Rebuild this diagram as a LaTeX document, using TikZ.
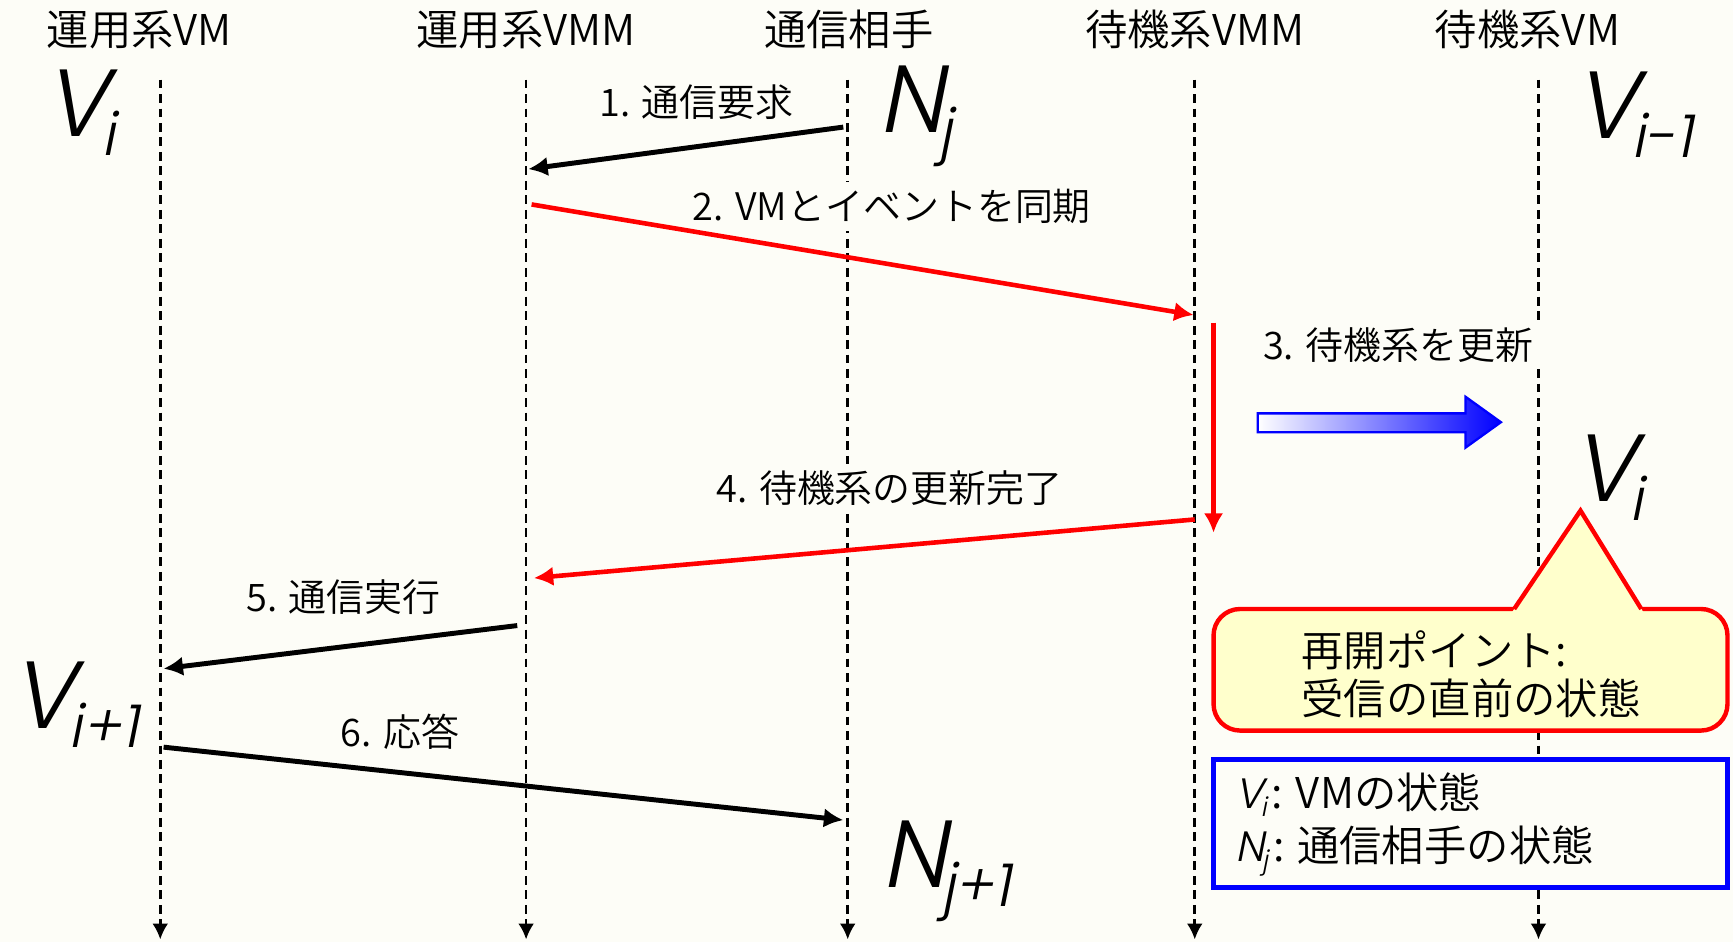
\documentclass[tikz,border=0pt]{standalone}
\usepackage{fontspec}
\setmainfont{Noto Sans CJK JP}[UprightFont=* DemiLight]
\newfontfamily\varfont{Poppins}[UprightFont=* Light,FakeSlant=0.2]
\usetikzlibrary{arrows.meta}
\definecolor{paper}{RGB}{253,253,247}
\definecolor{note}{RGB}{255,255,204}
\newcommand\statevar[2]{{\varfont #1\kern-0.06em\raisebox{-0.2em}{\scalebox{0.62}{#2}}}}

\begin{document}
\begin{tikzpicture}[x=0.022cm,y=-0.022cm,
  lifeline/.style={line width=1.5pt,dash pattern=on 5pt off 3.2pt,-{Latex[length=9pt,width=9pt]}},
  head/.style={font=\fontsize{24}{27}\selectfont},
  msglabel/.style={font=\fontsize{21.5}{25}\selectfont,fill=paper,inner xsep=6pt,inner ysep=4pt},
  blackmsg/.style={line width=2.8pt,-{Latex[length=11pt,width=11pt]}},
  redmsg/.style={red,line width=2.6pt,-{Latex[length=11pt,width=11pt]}},
  bigvar/.style={font=\fontsize{54}{54}\selectfont},
  boxtext/.style={align=left,anchor=west}]
\fill[paper] (0,0) rectangle (1568,852);
\useasboundingbox (0,0) rectangle (1568,852);
% lifelines
\foreach \x/\n in {145/avm,476/avmm,767/peer,1081/svmm,1392/svm}{
  \coordinate (\n top) at (\x,72);
  \coordinate (\n bot) at (\x,850);
  \draw[lifeline] (\n top) -- (\n bot);
}
\foreach \x/\t [count=\i] in {126/運用系VM,476/運用系VMM,768/通信相手,1081/待機系VMM,1382/待機系VM}
  \node[head] (head\i) at (\x,27) {\t};
% message labels
\node[msglabel] (lab1) at (630,92) {1. 通信要求};
\node[msglabel] (lab2) at (807,187) {2. VMとイベントを同期};
\node[msglabel] (lab3) at (1265,312) {3. 待機系を更新};
\node[msglabel] (lab4) at (805,442) {4. 待機系の更新完了};
\node[msglabel] (lab5) at (311,540) {5. 通信実行};
\node[msglabel] (lab6) at (362,662) {6. 応答};
% messages
\coordinate (m1s) at (763,115); \coordinate (m1e) at (478,153);
\coordinate (m2s) at (481,185); \coordinate (m2e) at (1080,285);
\coordinate (m3s) at (1098,292); \coordinate (m3e) at (1098,482);
\coordinate (m4s) at (1081,470); \coordinate (m4e) at (483,523);
\coordinate (m5s) at (468,566); \coordinate (m5e) at (148,605);
\coordinate (m6s) at (148,676); \coordinate (m6e) at (763,742);
\draw[blackmsg] (m1s) -- (m1e);
\draw[redmsg] (m2s) -- (m2e);
\draw[redmsg] (m3s) -- (m3e);
\draw[redmsg] (m4s) -- (m4e);
\draw[blackmsg] (m5s) -- (m5e);
\draw[blackmsg] (m6s) -- (m6e);
% update arrow
\path[draw=blue,line width=1.3pt,left color=white,right color=blue]
  (1138,374) -- (1326,374) -- (1326,359) -- (1358,382) -- (1326,405) -- (1326,391) -- (1138,391) -- cycle;
% resume point callout
\coordinate (tip) at (1430,462);
\draw[red,line width=2.5pt,fill=note,rounded corners=15] (1098,551) rectangle (1563,661);
\fill[note] (1368,554) -- (tip) -- (1487,554) -- cycle;
\draw[red,line width=2.5pt] (1370,551) -- (tip) -- (1485,551);
\node[boxtext,font=\fontsize{24}{27.5}\selectfont] (resume) at (1172,610) {再開ポイント:\\受信の直前の状態};
% legend
\draw[blue,line width=2.6pt,fill=paper] (1098,687) rectangle (1563,803);
\node[boxtext,font=\fontsize{24}{30}\selectfont] (legend) at (1112,746) {\statevar{V}{i}\kern3pt: VMの状態\\\statevar{N}{j}\kern3pt: 通信相手の状態};
% states
\node[bigvar] (vi) at (72,102) {\statevar{V}{i}};
\node[bigvar] (nj) at (828,105) {\statevar{N}{j}};
\node[bigvar] (vold) at (1478,104) {\statevar{V}{i-1}};
\node[bigvar] (vnew) at (1455,432) {\statevar{V}{i}};
\node[bigvar] (vnext) at (68,638) {\statevar{V}{i+1}};
\node[bigvar] (nnext) at (856,788) {\statevar{N}{j+1}};
\end{tikzpicture}
\end{document}
